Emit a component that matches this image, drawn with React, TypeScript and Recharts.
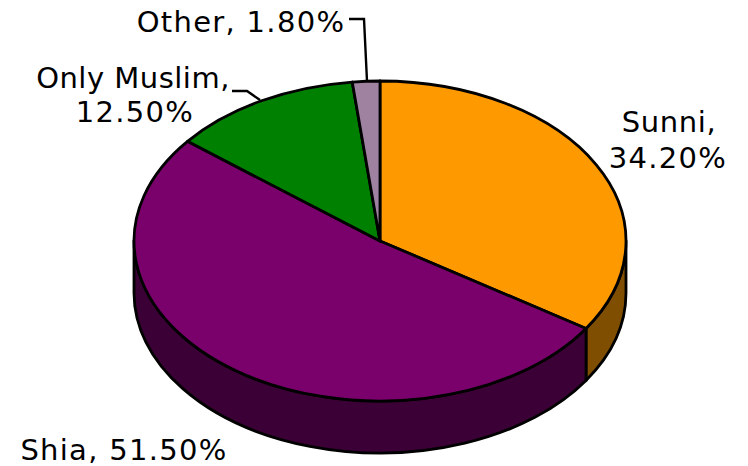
import { PieChart, Pie, Cell } from "recharts";

const sliceNames = ["Sunni", "Shia", "Only Muslim", "Other"];
const sliceShares = [34.2, 51.5, 12.5, 1.8];
const topColors = ["#ff9900", "#7a006b", "#008000", "#9e82a0"];
const sideColors = ["#7f4e00", "#3b0035", "#004000", "#4f4150"];

const data = sliceNames.map((name, i) => ({ name, value: sliceShares[i] }));

// tilt of the disc and height of its wall
const TILT = 160 / 246;
const DEPTH = 52;
const RAD = Math.PI / 180;

const labelLayout = [
  { x: [669, 668], y: [132, 168], spacing: [0.6, 1.3], line: null },
  { x: [124], y: [460], spacing: [1.3], line: null },
  { x: [133, 135], y: [88, 122], spacing: [0.5, 1.3], line: "232,91 247,91 260,100" },
  { x: [241], y: [32], spacing: [1.3], line: "349,19 364,19 367,81" },
];

const pointOn = (cx: number, cy: number, r: number, angle: number) => ({
  x: cx + r * Math.cos(angle * RAD),
  y: cy - r * TILT * Math.sin(angle * RAD),
});

const TopSlice = (props: any) => {
  const { cx, cy, outerRadius: r, startAngle, endAngle, fill } = props;
  const a = pointOn(cx, cy, r, startAngle);
  const b = pointOn(cx, cy, r, endAngle);
  const large = startAngle - endAngle > 180 ? 1 : 0;
  const d = `M${cx},${cy} L${a.x},${a.y} A${r},${r * TILT} 0 ${large} 1 ${b.x},${b.y} Z`;
  return <path d={d} fill={fill} stroke="#000" strokeWidth={2.8} strokeLinejoin="round" />;
};

const SideSlice = (props: any) => {
  const { cx, cy, outerRadius: r, startAngle, endAngle, fill } = props;
  // only the front half of the wall shows
  const hi = Math.min(startAngle, 0);
  const lo = Math.max(endAngle, -180);
  if (hi <= lo) return <g />;
  const a = pointOn(cx, cy, r, hi);
  const b = pointOn(cx, cy, r, lo);
  const ry = r * TILT;
  const d = `M${a.x},${a.y} A${r},${ry} 0 0 1 ${b.x},${b.y} L${b.x},${b.y + DEPTH} A${r},${ry} 0 0 0 ${a.x},${a.y + DEPTH} Z`;
  return <path d={d} fill={fill} stroke="#000" strokeWidth={2.8} strokeLinejoin="round" />;
};

const renderLabel = (props: any) => {
  const { index } = props;
  const layout = labelLayout[index];
  const text = `${sliceNames[index]}, ${sliceShares[index].toFixed(2)}%`;
  const lines = layout.x.length > 1 ? [`${sliceNames[index]},`, `${sliceShares[index].toFixed(2)}%`] : [text];
  return (
    <g>
      {layout.line && <polyline points={layout.line} fill="none" stroke="#000" strokeWidth={2.4} />}
      {lines.map((line, i) => (
        <text
          key={line}
          x={layout.x[i]}
          y={layout.y[i]}
          textAnchor="middle"
          fill="#000"
          fontSize={29}
          letterSpacing={layout.spacing[i]}
          fontFamily="DejaVu Sans"
        >
          {line}
        </text>
      ))}
    </g>
  );
};

export default function App() {
  return (
    <div style={{ width: 748, height: 466, marginTop: -8, marginLeft: -8, background: "#fff" }}>
      <PieChart width={748} height={466} margin={{ top: 0, right: 0, bottom: 0, left: 0 }}>
        <Pie
          data={data}
          dataKey="value"
          nameKey="name"
          cx={380}
          cy={241}
          outerRadius={246}
          startAngle={90}
          endAngle={-270}
          shape={SideSlice}
          isAnimationActive={false}
          legendType="none"
        >
          {data.map((d, i) => (
            <Cell key={d.name} fill={sideColors[i]} />
          ))}
        </Pie>
        <Pie
          data={data}
          dataKey="value"
          nameKey="name"
          cx={380}
          cy={241}
          outerRadius={246}
          startAngle={90}
          endAngle={-270}
          shape={TopSlice}
          label={renderLabel}
          labelLine={false}
          isAnimationActive={false}
        >
          {data.map((d, i) => (
            <Cell key={d.name} fill={topColors[i]} />
          ))}
        </Pie>
      </PieChart>
    </div>
  );
}
